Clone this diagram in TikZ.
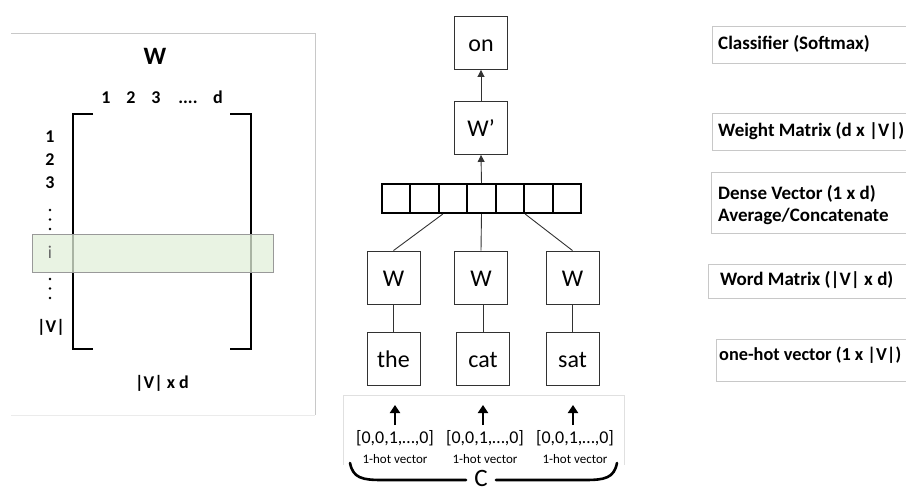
\documentclass[tikz,border=0pt]{standalone}
\usepackage{fontspec}
\setmainfont{Carlito}
\usetikzlibrary{arrows.meta}
\definecolor{bandgreen}{RGB}{226,239,218}
\definecolor{panelgray}{RGB}{200,200,200}
\definecolor{boxline}{RGB}{50,50,50}
\tikzset{
  panel/.style={draw=panelgray, line width=0.9pt},
  wbox/.style={draw=boxline, line width=0.9pt, minimum width=53pt, minimum height=53pt, inner sep=0pt, text height=17pt, text depth=0pt, font=\fontsize{24}{26}\selectfont},
  cell/.style={draw=black, line width=2pt, minimum width=28.4pt, minimum height=29pt, inner sep=0pt},
  conn/.style={draw=boxline, line width=0.9pt},
  uparr/.style={draw=boxline, line width=0.9pt, -{Triangle[length=7pt,width=7pt]}},
  hotarr/.style={draw=black, line width=2.6pt, -{Triangle[length=8pt,width=10pt]}},
  lbl/.style={font=\bfseries\fontsize{19}{22}\selectfont, anchor=west, inner sep=0pt, align=left},
  mlbl/.style={font=\bfseries\fontsize{18}{20}\selectfont, inner sep=0pt},
  clbl/.style={font=\bfseries\fontsize{18}{20}\selectfont, inner sep=0pt, anchor=base},
  bracket/.style={draw=black, line width=2.6pt},
  vectxt/.style={font=\fontsize{18}{20}\selectfont, inner sep=0pt},
  hottxt/.style={font=\fontsize{13}{15}\selectfont, inner sep=0pt},
}
\begin{document}
\begin{tikzpicture}[x=1pt,y=-1pt]
\useasboundingbox (0,0) rectangle (906,491);
% ---------- left panel ----------
\draw[panel] (11,33) -- (315,33) -- (315,415);
\draw[draw=black!8, line width=0.9pt] (11,415) -- (315,415);
\node[font=\bfseries\fontsize{25}{27}\selectfont, inner sep=0pt] (wt) at (155,56) {W};
\node[clbl] (col1) at (106,103) {1};
\node[clbl] (col2) at (131,103) {2};
\node[clbl] (col3) at (156,103) {3};
\node[clbl] (cold) at (188,103) {....};
\node[clbl] (cole) at (218,103) {d};
\draw[bracket] (93,114) -- (73,114) -- (73,349) -- (93,349);
\draw[bracket] (230,114) -- (251,114) -- (251,349) -- (230,349);
\node[draw=black!40, line width=0.9pt, fill=bandgreen, fill opacity=0.75, minimum width=241pt, minimum height=38pt, inner sep=0pt] (band) at (152.5,253) {};
\node[mlbl] (r1) at (50,137) {1};
\node[mlbl] (r2) at (50,160) {2};
\node[mlbl] (r3) at (50,183) {3};
\foreach \yy in {210,219.5,229,279,288.5,298} \fill (50,\yy) circle (1.3pt);
\node[font=\fontsize{18}{20}\selectfont, text=black!60, inner sep=0pt] (ri) at (50,252) {i};
\node[mlbl] (rv) at (51,327) {|V|};
\node[mlbl] (dim) at (162,383) {|V| x d};
% ---------- middle ----------
\node[wbox] (on) at (481,43) {on};
\node[wbox] (wp) at (481,128) {W’};
\foreach \i in {0,...,6} \node[cell] (c\i) at (396.2+\i*28.43,198.5) {};
\node[wbox] (w1) at (393.5,277.5) {W};
\node[wbox] (w2) at (481,277.5) {W};
\node[wbox] (w3) at (572.5,277.5) {W};
\node[wbox] (the) at (393.5,359) {the};
\node[wbox] (cat) at (483,359) {cat};
\node[wbox] (sat) at (572.5,359) {sat};
\draw[uparr] (c3.north) -- (wp.south);
\draw[uparr] (wp.north) -- (on.south);
\draw[conn] ([xshift=5pt]c2.south west) -- (w1.north);
\draw[conn] (c3.south) -- (w2.north);
\draw[conn] (c4.south east) -- (w3.north);
\draw[conn] (w1.south) -- (the.north);
\draw[conn] (cat.north |- w2.south) -- (cat.north);
\draw[conn] (w3.south) -- (sat.north);
% bottom panel
\draw[draw=black!12, line width=0.9pt] (343,465) -- (343,395) -- (624,395) -- (624,465);
\coordinate (a1s) at (395,425); \coordinate (a1e) at (395,405);
\coordinate (a2s) at (483,425); \coordinate (a2e) at (483,405);
\coordinate (a3s) at (573,425); \coordinate (a3e) at (573,405);
\draw[hotarr] (a1s) -- (a1e);
\draw[hotarr] (a2s) -- (a2e);
\draw[hotarr] (a3s) -- (a3e);
\node[vectxt] (v1) at (395,438) {[0,0,1,…,0]};
\node[vectxt] (v2) at (485,438) {[0,0,1,…,0]};
\node[vectxt] (v3) at (575,438) {[0,0,1,…,0]};
\node[hottxt] (h1) at (395,459) {1-hot vector};
\node[hottxt] (h2) at (485,459) {1-hot vector};
\node[hottxt] (h3) at (575,459) {1-hot vector};
\node[font=\fontsize{25}{27}\selectfont, inner sep=0pt, anchor=base] (cc) at (481,486) {C};
\draw[line width=2.6pt, line cap=round] (350,463) .. controls (353,478) and (362,480) .. (382,480) -- (466,480);
\draw[line width=2.6pt, line cap=round] (496,480) -- (585,480) .. controls (605,480) and (614,478) .. (617,463);
% ---------- right labels ----------
\draw[panel] (906,26) -- (712,26) -- (712,63) -- (906,63);
\node[lbl] (l1) at (718,44) {Classifier (Softmax)};
\draw[panel] (906,113) -- (712,113) -- (712,150) -- (906,150);
\node[lbl] (l2) at (718,131) {Weight Matrix (d x |V|)};
\draw[panel] (906,172) -- (711,172) -- (711,233) -- (906,233);
\node[lbl] (l3) at (718,205) {Dense Vector (1 x d)\\Average/Concatenate};
\draw[panel] (906,264) -- (708,264) -- (708,298) -- (906,298);
\node[lbl] (l4) at (720,280) {Word Matrix (|V| x d)};
\draw[panel] (906,339) -- (716,339) -- (716,381) -- (906,381);
\node[lbl, font=\bfseries\fontsize{18.3}{22}\selectfont] (l5) at (719,355) {one-hot vector (1 x |V|)};
\end{tikzpicture}
\end{document}
